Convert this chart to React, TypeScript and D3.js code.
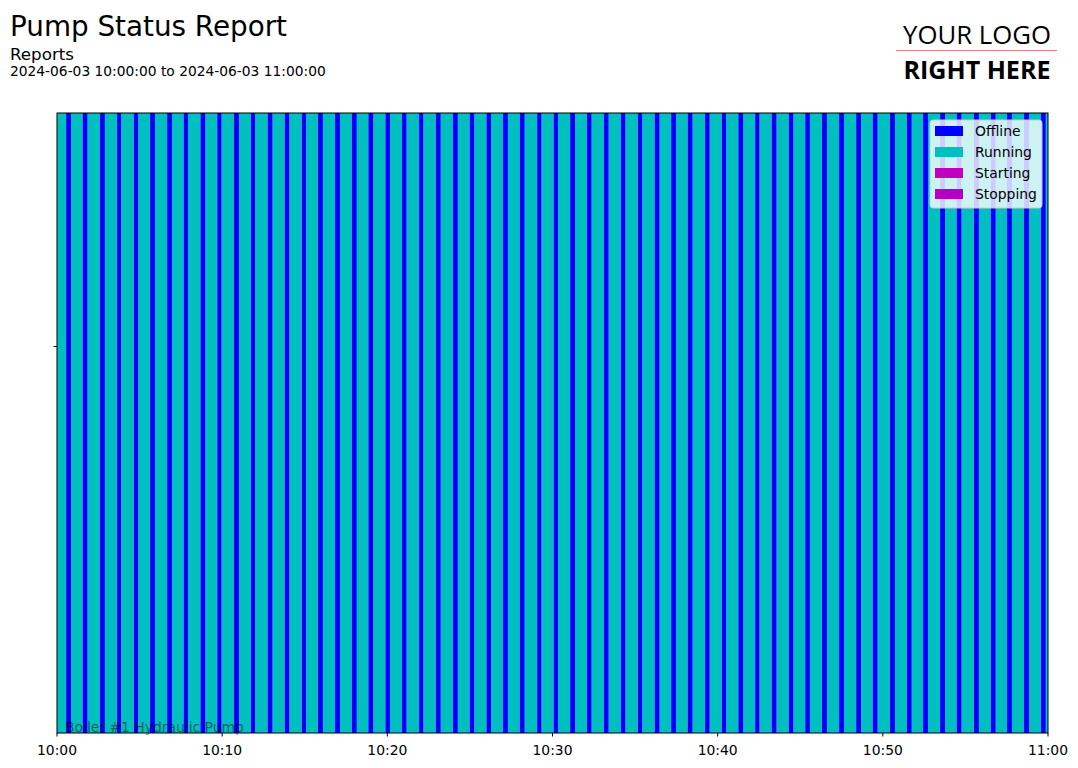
import React from "react";
import * as d3 from "d3";

// seconds after 10:00:00 at which the pump goes offline
const offlineStart = [
  33, 93, 156, 218, 279, 338, 400, 460, 521, 582, 643, 704,
  765, 827, 889, 948, 1010, 1071, 1131, 1193, 1253, 1315, 1376,
  1438, 1499, 1560, 1620, 1681, 1744, 1804, 1864, 1925, 1987, 2048, 2110,
  2171, 2231, 2291, 2354, 2415, 2475, 2536, 2596, 2658, 2718, 2779,
  2841,
  2903, 2963, 3026, 3087, 3146, 3208, 3268, 3331, 3392, 3451, 3513, 3574,
];
// how long each offline spell lasted (seconds)
const offlineDur = [
  18, 18, 18, 15, 16, 18, 18, 16, 18, 16, 18, 16,
  18, 17, 16, 18, 18, 18, 18, 17, 17, 16, 18,
  18, 17, 17, 18, 18, 16, 16, 18, 17, 17, 17, 16,
  18, 18, 18, 17, 16, 18, 16, 18, 17, 17, 18,
  18,
  18, 18, 18, 18, 18, 18, 18, 18, 18, 18, 18, 18,
];
const legendItems = ["Offline", "Running", "Starting", "Stopping"];
const legendColors = ["#0000ff", "#00bfbf", "#bf00bf", "#b400c4"];

const W = 1078;
const H = 768;
const m = { left: 57, right: 1048, top: 113, bottom: 733 };
const t0 = new Date(2024, 5, 3, 10, 0, 0);
const t1 = new Date(2024, 5, 3, 11, 0, 0);
const at = (s: number) => new Date(t0.getTime() + s * 1000);
const font = "DejaVu Sans, sans-serif";

const App = () => {
  const x = d3.scaleTime().domain([t0, t1]).range([m.left, m.right]);
  const ticks = x.ticks(d3.timeMinute.every(10)!);
  const fmt = d3.timeFormat("%H:%M");

  // running spans fill the gaps between offline spells
  const running: [number, number][] = [];
  let prev = 0;
  offlineStart.forEach((s, i) => {
    running.push([prev, s]);
    prev = s + offlineDur[i];
  });
  running.push([prev, 3600]);

  return (
    <svg width={W} height={H} style={{ position: "absolute", left: 0, top: 0 }} fontFamily={font}>
      <rect width={W} height={H} fill="#fff" />
      <text x={10} y={36} fontSize={27.8}>Pump Status Report</text>
      <text x={10} y={60} fontSize={16.7}>Reports</text>
      <text x={10} y={76} fontSize={13.8}>2024-06-03 10:00:00 to 2024-06-03 11:00:00</text>

      <text x={977} y={44} fontSize={26} fontFamily="Open Sans, sans-serif" textAnchor="middle"
        textLength={148} lengthAdjust="spacingAndGlyphs">YOUR LOGO</text>
      <line x1={896} x2={1057} y1={50.5} y2={50.5} stroke="#f08080" />
      <text x={977} y={79} fontSize={25} fontWeight="bold" fontFamily="Open Sans, sans-serif" textAnchor="middle"
        textLength={147} lengthAdjust="spacingAndGlyphs">RIGHT HERE</text>

      {running.map((d, i) => (
        <rect key={"r" + i} x={x(at(d[0]))} y={m.top} width={x(at(d[1])) - x(at(d[0]))}
          height={m.bottom - m.top} fill={legendColors[1]} />
      ))}
      {offlineStart.map((s, i) => (
        <rect key={"o" + i} x={x(at(s))} y={m.top} width={x(at(s + offlineDur[i])) - x(at(s))}
          height={m.bottom - m.top} fill={legendColors[0]} />
      ))}

      <text x={65} y={732} fontSize={13.9} fill="#000" fillOpacity={0.5}>Boiler #1 Hydraulic Pump</text>

      <rect x={m.left} y={m.top} width={m.right - m.left} height={m.bottom - m.top}
        fill="none" stroke="#000" strokeWidth={1} />
      <line x1={m.left - 3.5} x2={m.left} y1={346.5} y2={346.5} stroke="#000" />
      {ticks.map((t, i) => (
        <g key={i} transform={`translate(${x(t)},${m.bottom})`}>
          <line y1={0} y2={3.5} stroke="#000" />
          <text y={22} fontSize={13.9} textAnchor="middle">{fmt(t)}</text>
        </g>
      ))}

      <g transform="translate(930,120)">
        <rect width={112} height={88} rx={3} fill="#fff" fillOpacity={0.8} stroke="#ccc" />
        {legendItems.map((n, i) => (
          <g key={n} transform={`translate(0,${11 + i * 21})`}>
            <rect x={5} y={-5} width={28} height={10} fill={legendColors[i]} />
            <text x={45} y={5} fontSize={13.9}>{n}</text>
          </g>
        ))}
      </g>
    </svg>
  );
};

export default App;
